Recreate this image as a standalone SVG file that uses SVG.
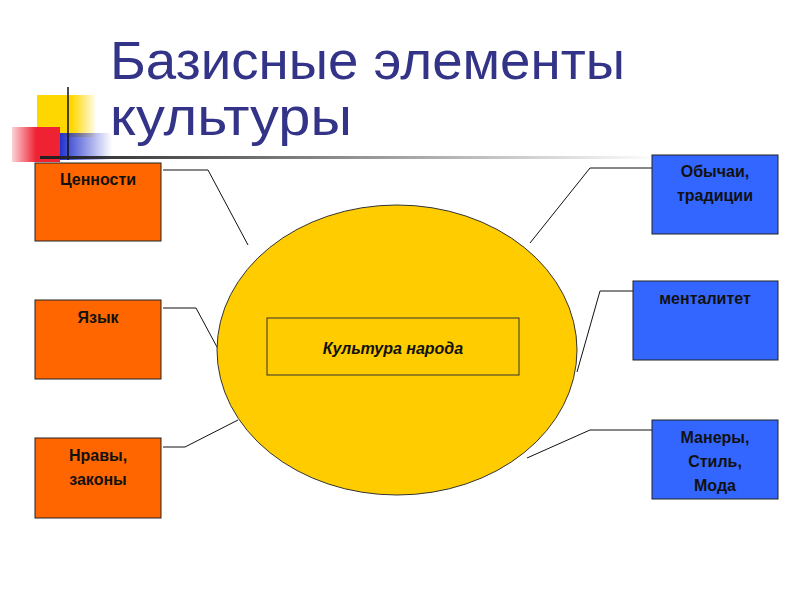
<svg xmlns="http://www.w3.org/2000/svg" width="800" height="600" viewBox="0 0 800 600">
<defs>
<style>
.box{stroke:#222;stroke-width:1}
.or{fill:#FF6600}.bl{fill:#3366FF}
.t{font-family:"Liberation Sans",Arial,sans-serif;font-weight:bold;font-size:16px;fill:#111;text-anchor:middle}
.c{fill:none;stroke:#111;stroke-width:1}
</style>
<linearGradient id="hl" x1="0" x2="1"><stop offset="0" stop-color="#222"/><stop offset="1" stop-color="#222" stop-opacity="0"/></linearGradient>
<linearGradient id="bg" x1="0" x2="1"><stop offset="0" stop-color="#2233CC"/><stop offset="1" stop-color="#2233CC" stop-opacity="0"/></linearGradient>
<linearGradient id="yg" x1="0" x2="1"><stop offset="0.6" stop-color="#FFD700"/><stop offset="1" stop-color="#FFD700" stop-opacity="0.1"/></linearGradient>
<linearGradient id="rg" x1="1" x2="0"><stop offset="0.5" stop-color="#EE2233"/><stop offset="1" stop-color="#EE2233" stop-opacity="0.2"/></linearGradient>
</defs>
<rect width="800" height="600" fill="#fff"/>
<g id="decor">
<rect x="37" y="95" width="58" height="42" fill="url(#yg)"/>
<rect x="60" y="133" width="52" height="27" fill="url(#bg)"/>
<rect x="12" y="127" width="48" height="35" fill="url(#rg)"/>
<line x1="68" y1="87" x2="68" y2="160" stroke="#111" stroke-width="1.5"/>
<rect x="40" y="156" width="620" height="3" fill="url(#hl)"/>
</g>
<g id="title" font-family="'Liberation Sans',Arial,sans-serif" font-size="54" fill="#333388">
<text x="110" y="79" textLength="515" lengthAdjust="spacingAndGlyphs">Базисные элементы</text>
<text x="110" y="135" textLength="242" lengthAdjust="spacingAndGlyphs">культуры</text>
</g>
<g id="connectors" class="c">
<polyline class="c" points="163,170 208,170 248,245"/>
<polyline class="c" points="163,308 196,308 224,360"/>
<polyline class="c" points="163,447 185,447 238,420"/>
<polyline class="c" points="652,168 590,168 530,243"/>
<polyline class="c" points="633,291 600,291 577,372"/>
<polyline class="c" points="652,430 590,430 527,458"/>
</g>
<g id="center">
<ellipse cx="397" cy="350" rx="180" ry="145" fill="#FFCC00" stroke="#333" stroke-width="1"/>
<rect x="267" y="318" width="252" height="57" fill="#FFCC00" stroke="#333"/>
<text x="393" y="354" class="t" font-style="italic">Культура народа</text>
</g>
<g id="n1"><rect class="box or" x="35" y="163" width="126" height="78"/><text class="t" x="98" y="185">Ценности</text></g>
<g id="n2"><rect class="box or" x="35" y="300" width="126" height="79"/><text class="t" x="98" y="323">Язык</text></g>
<g id="n3"><rect class="box or" x="35" y="438" width="126" height="80"/><text class="t" x="98" y="461">Нравы,</text><text class="t" x="98" y="485">законы</text></g>
<g id="n4"><rect class="box bl" x="652" y="155" width="126" height="79"/><text class="t" x="715" y="177">Обычаи,</text><text class="t" x="715" y="201">традиции</text></g>
<g id="n5"><rect class="box bl" x="633" y="281" width="145" height="79"/><text class="t" x="705" y="304">менталитет</text></g>
<g id="n6"><rect class="box bl" x="652" y="420" width="126" height="79"/><text class="t" x="715" y="443">Манеры,</text><text class="t" x="715" y="467">Стиль,</text><text class="t" x="715" y="491">Мода</text></g>
</svg>
